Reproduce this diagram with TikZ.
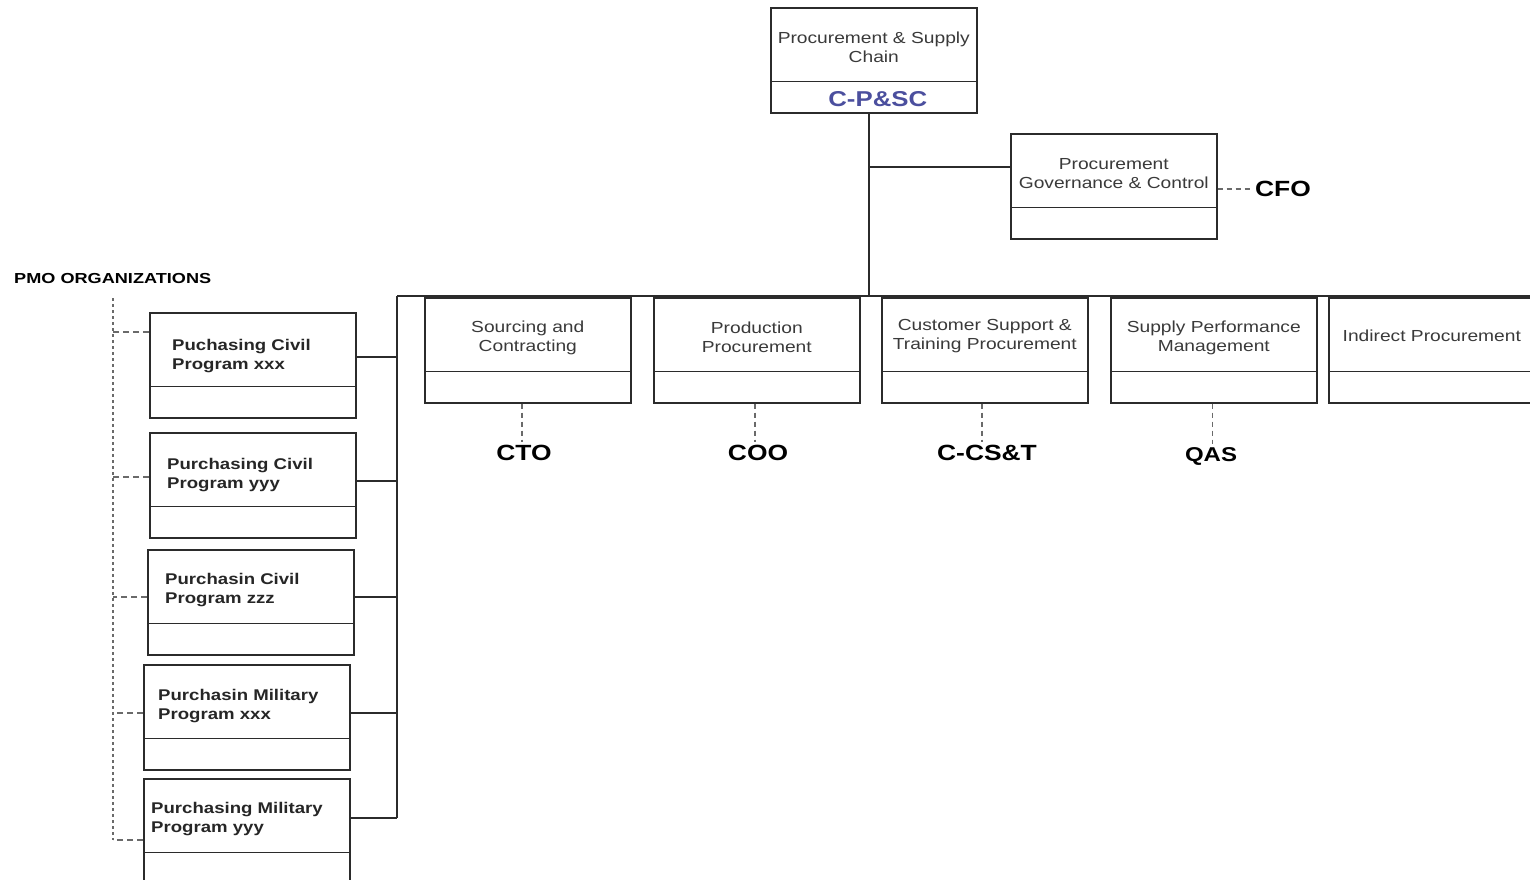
\documentclass[tikz,border=0pt]{standalone}
\usepackage{fontspec}
\newfontfamily\regf{Liberation Sans}[FakeStretch=1.2]
\newfontfamily\widef{Liberation Sans}[FakeStretch=1.25]
\definecolor{linec}{HTML}{2B2B2B}
\definecolor{textc}{HTML}{3A3A3A}
\definecolor{cblue}{HTML}{4B4F9E}
\definecolor{tiec}{HTML}{6A6A6A}
\begin{document}
\begin{tikzpicture}[x=1pt,y=-1pt,
  orgbox/.style={draw=linec, line width=1.6pt, fill=white, minimum width=206pt,
    minimum height=105pt, anchor=north west, inner sep=0pt},
  regtxt/.style={font=\regf\fontsize{16}{19}\selectfont, text=textc, align=center, inner sep=0pt},
  lefttxt/.style={font=\regf\bfseries\fontsize{15.5}{19}\selectfont, text=black!85, align=left,
    anchor=west, inner sep=0pt},
  lbl/.style={font=\regf\bfseries\fontsize{22}{26}\selectfont, text=black},
  conn/.style={draw=linec, line width=1.2pt},
  tie/.style={draw=tiec, line width=1.3pt, dash pattern=on 5pt off 4pt},
  stub/.style={draw=tiec, line width=1.2pt, dash pattern=on 6pt off 4pt},
  pmodot/.style={draw=tiec, line width=1.2pt, dash pattern=on 3pt off 3pt}]
\fill[white] (0,0) rectangle (1530,879);
\useasboundingbox (0,0) rectangle (1530,879);

% head of the chain and governance unit
\node[orgbox] (top) at (770,7) {};
\node[orgbox] (gov) at (1010,133) {};
% functional units along the main bar
\node[orgbox] (src) at (424,297) {};
\node[orgbox] (prod) at (653,297) {};
\node[orgbox] (cust) at (881,297) {};
\node[orgbox] (supp) at (1110,297) {};
\node[orgbox] (ind) at (1328,297) {};
% programme purchasing units
\node[orgbox] (b1) at (149,312) {};
\node[orgbox] (b2) at (149,432) {};
\node[orgbox] (b3) at (147,549) {};
\node[orgbox] (b4) at (143,664) {};
\node[orgbox] (b5) at (143,778) {};

% lower compartment of every box
\foreach \n in {top,gov,src,prod,cust,supp,ind,b1,b2,b3,b4,b5}
  \draw[draw=linec, line width=1.6pt] ([yshift=32pt]\n.south west) -- ([yshift=32pt]\n.south east);

% box titles
\node[regtxt] (topT) at ([yshift=-40pt]top.north) {Procurement \& Supply\\Chain};
\node[font=\regf\bfseries\fontsize{21.5}{25}\selectfont, text=cblue] (topC) at ([xshift=4pt,yshift=15pt]top.south) {C-P\&SC};
\node[regtxt] (govT) at ([yshift=-40.5pt]gov.north) {Procurement\\Governance \& Control};
\node[regtxt] (srcT) at ([yshift=-40.5pt]src.north) {Sourcing and\\Contracting};
\node[regtxt] (prodT) at ([yshift=-40pt]prod.north) {Production\\Procurement};
\node[regtxt] (custT) at ([yshift=-39.5pt]cust.north) {Customer Support \&\\Training Procurement};
\node[regtxt] (suppT) at ([yshift=-40.5pt]supp.north) {Supply Performance\\Management};
\node[regtxt] (indT) at ([yshift=-39pt]ind.north) {Indirect Procurement};

\node[lefttxt] (b1T) at ([xshift=23pt,yshift=-44pt]b1.north west) {Puchasing Civil\\Program xxx};
\node[lefttxt] (b2T) at ([xshift=18pt,yshift=-43pt]b2.north west) {Purchasing Civil\\Program yyy};
\node[lefttxt] (b3T) at ([xshift=18pt,yshift=-41pt]b3.north west) {Purchasin Civil\\Program zzz};
\node[lefttxt] (b4T) at ([xshift=15pt,yshift=-42pt]b4.north west) {Purchasin Military\\Program xxx};
\node[lefttxt] (b5T) at ([xshift=8pt,yshift=-41pt]b5.north west) {Purchasing Military\\Program yyy};

\node[font=\widef\bfseries\fontsize{14.5}{17}\selectfont, anchor=west, inner sep=0pt] (pmo) at (14,278) {PMO ORGANIZATIONS};

% executive counterparts
\node[lbl] (cfo) at (1283,189) {CFO};
\node[lbl] (cto) at (524,453) {CTO};
\node[lbl] (coo) at (758,453) {COO};
\node[lbl] (ccst) at (987,453) {C-CS\&T};
\node[font=\regf\bfseries\fontsize{20}{24}\selectfont] (qas) at (1211,456) {QAS};

% solid reporting lines
\coordinate (barL) at (397,296);
\coordinate (barR) at (1530,296);
\coordinate (trunk) at (869,296);
\coordinate (busB) at (397,818);
\draw[conn] (barL) -- (barR);
\draw[conn] (trunk |- top.south) -- (trunk);
\coordinate (g) at ([yshift=-34pt]gov.north west);
\draw[conn] (g) -- (g -| trunk);
\draw[conn] (barL) -- (busB);
\coordinate (r1) at ([yshift=-45pt]b1.north east);
\coordinate (r2) at ([yshift=-49pt]b2.north east);
\coordinate (r3) at ([yshift=-48pt]b3.north east);
\coordinate (r4) at ([yshift=-49pt]b4.north east);
\coordinate (r5) at ([yshift=-40pt]b5.north east);
\foreach \r in {r1,r2,r3,r4,r5}
  \draw[conn] (\r) -- (\r -| barL);

% dashed links to the executives
\draw[tie] (gov.east |- cfo.west) -- (cfo.west);
\draw[tie] ([xshift=-2pt]cto.north |- src.south) -- ([xshift=-2pt]cto.north);
\draw[tie] ([xshift=-3pt]coo.north |- prod.south) -- ([xshift=-3pt]coo.north);
\draw[tie] ([xshift=-5pt]ccst.north |- cust.south) -- ([xshift=-5pt]ccst.north);
\draw[tie] ([xshift=-1pt]supp.south) -- ([xshift=-1pt]supp.south |- qas.north);

% PMO organisations grouping line
\coordinate (pT) at (113,298);
\coordinate (pB) at (113,840);
\draw[pmodot] (pT) -- (pB);
\coordinate (s1) at ([yshift=-20pt]b1.north west);
\coordinate (s2) at ([yshift=-45pt]b2.north west);
\coordinate (s3) at ([yshift=-48pt]b3.north west);
\coordinate (s4) at ([yshift=-49pt]b4.north west);
\coordinate (s5) at ([yshift=-62pt]b5.north west);
\foreach \s in {s1,s2,s3,s4,s5}
  \draw[stub] (\s) -- (\s -| pT);
\end{tikzpicture}
\end{document}
